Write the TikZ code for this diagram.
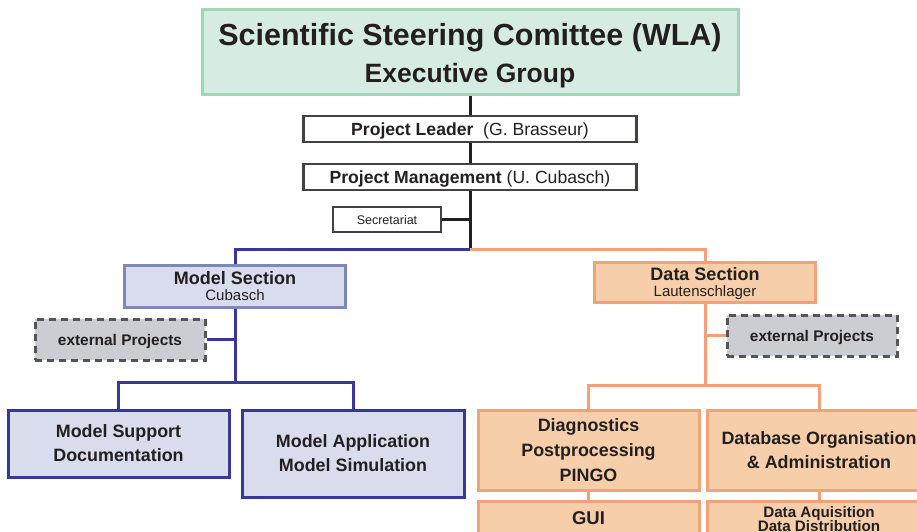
\documentclass[tikz,border=0pt]{standalone}
\usepackage{fontspec}
\setmainfont{Liberation Sans}
\definecolor{txt}{HTML}{231F20}
\definecolor{gfill}{HTML}{D7ECE1}
\definecolor{gdraw}{HTML}{9FD6BA}
\definecolor{bfill}{HTML}{D9DCED}
\definecolor{bdraw}{HTML}{38379A}
\definecolor{bdrawl}{HTML}{7D87B9}
\definecolor{ofill}{HTML}{F6CFAA}
\definecolor{odraw}{HTML}{F2A27A}
\definecolor{xfill}{HTML}{CBCDD2}
\definecolor{xdraw}{HTML}{555555}
\tikzset{
  base/.style={rectangle, inner sep=0pt, align=center, text=txt, line width=3pt, text depth=0pt},
  greenbox/.style={base, fill=gfill, draw=gdraw},
  whitebox/.style={base, fill=white, draw=txt!85, line width=2.5pt},
  secbox/.style={base, fill=white, draw=txt!85, line width=1.2pt},
  bluesec/.style={base, fill=bfill, draw=bdrawl},
  bluebox/.style={base, fill=bfill, draw=bdraw},
  orangebox/.style={base, fill=ofill, draw=odraw},
  extbox/.style={base, fill=xfill, draw=xdraw, dash pattern=on 7pt off 5pt},
  label/.style={text=txt, inner sep=0pt, align=center},
  blk/.style={line width=3pt, draw=txt},
  blu/.style={line width=3pt, draw=bdraw},
  org/.style={line width=3pt, draw=odraw},
}
\begin{document}
\begin{tikzpicture}[x=1pt,y=-1pt]
\useasboundingbox (0,0) rectangle (917,532);
\clip (0,0) rectangle (917,532);
\coordinate (j) at (470,249);
\coordinate (msj) at (235,382);
\coordinate (dsj) at (705,385);

\node[greenbox, minimum width=536pt, minimum height=85pt,
      font=\fontsize{30.5}{37}\selectfont\bfseries] (ssc) at (470,52.5)
  {Scientific Steering Comittee (WLA)\\{\fontsize{26.5}{37}\selectfont Executive Group}};
\node[whitebox, minimum width=333pt, minimum height=26pt,
      font=\fontsize{17.6}{20}\selectfont] (pl) at (470,129)
  {\textbf{Project Leader}\ \ (G. Brasseur)};
\node[whitebox, minimum width=333pt, minimum height=26pt,
      font=\fontsize{17.6}{20}\selectfont] (pm) at (470,177)
  {\textbf{Project Management} (U. Cubasch)};
\node[secbox, minimum width=108pt, minimum height=25pt,
      font=\fontsize{12.5}{14}\selectfont] (sec) at (387,219.5)
  {Secretariat};

\node[bluesec, minimum width=221pt, minimum height=42pt,
      font=\fontsize{18}{16}\selectfont\bfseries] (ms) at (235,286)
  {Model Section\\{\fontsize{15}{16}\selectfont\mdseries Cubasch}};
\node[extbox, minimum width=170pt, minimum height=41pt,
      font=\fontsize{15.4}{16}\selectfont\bfseries] (extL) at (120,339.5)
  {external Projects};
\node[bluebox, minimum width=221pt, minimum height=67pt,
      font=\fontsize{17.9}{24}\selectfont\bfseries] (mss) at (118.5,443.5)
  {Model Support\\Documentation};
\node[bluebox, minimum width=222pt, minimum height=87pt,
      font=\fontsize{17.9}{24}\selectfont\bfseries] (mas) at (353,453.5)
  {Model Application\\Model Simulation};

\node[orangebox, minimum width=221pt, minimum height=40pt,
      font=\fontsize{18}{16}\selectfont\bfseries] (ds) at (705,282)
  {Data Section\\{\fontsize{15}{16}\selectfont\mdseries Lautenschlager}};
\node[extbox, minimum width=170pt, minimum height=41pt,
      font=\fontsize{15.4}{16}\selectfont\bfseries] (extR) at (812,335.5)
  {external Projects};
\node[orangebox, minimum width=221pt, minimum height=80pt,
      font=\fontsize{17.9}{25}\selectfont\bfseries] (diag) at (588.5,450)
  {Diagnostics\\Postprocessing\\PINGO};
\node[orangebox, minimum width=224pt, minimum height=80pt,
      font=\fontsize{17.9}{24}\selectfont\bfseries] (db) at (819,450)
  {Database Organisation\\\& Administration};
\node[orangebox, minimum width=221pt, minimum height=60pt, anchor=north] (gui) at (588.5,500) {};
\node[label, font=\fontsize{18.5}{20}\selectfont\bfseries] (guit) at (588.5,518) {GUI};
\node[orangebox, minimum width=224pt, minimum height=60pt, anchor=north] (daq) at (819,500) {};
\node[label, font=\fontsize{15.2}{14}\selectfont\bfseries, anchor=base] (daq1) at (819,517.5) {Data Aquisition};
\node[label, font=\fontsize{15.2}{14}\selectfont\bfseries, anchor=base] (daq2) at (819,531.5) {Data Distribution};

\draw[blk] (ssc.south) -- (pl.north);
\draw[blk] (pl.south) -- (pm.north);
\draw[blk] (pm.south) -- (j);
\draw[blk] (sec.east) -- (sec.east -| j);
\draw[blu] (j) -| (ms.north);
\draw[org] (j) -| (ds.north);
\draw[blu] (ms.south) -- (msj);
\draw[blu] (extL.east) -- (extL.east -| msj);
\draw[blu] (mss.north) |- (msj) -| (mas.north);
\draw[org] (ds.south) -- (dsj);
\draw[org] (extR.west) -- (extR.west -| dsj);
\draw[org] (diag.north) |- (dsj) -| (db.north);
\draw[org] (diag.south) -- (gui.north);
\draw[org] (db.south) -- (daq.north);
\end{tikzpicture}
\end{document}
